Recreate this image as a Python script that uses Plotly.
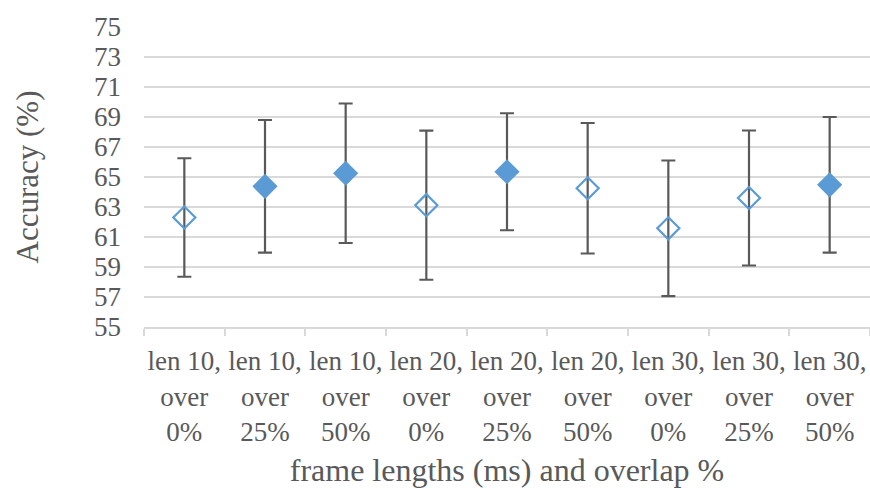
import plotly.graph_objects as go

# Frame length / overlap configurations
categories = [
    "len 10,<br>over<br>0%", "len 10,<br>over<br>25%", "len 10,<br>over<br>50%",
    "len 20,<br>over<br>0%", "len 20,<br>over<br>25%", "len 20,<br>over<br>50%",
    "len 30,<br>over<br>0%", "len 30,<br>over<br>25%", "len 30,<br>over<br>50%",
]
# Mean accuracy (%) and its standard deviation
accuracy = [62.3, 64.38, 65.25, 63.12, 65.35, 64.25, 61.58, 63.6, 64.48]
std_dev = [3.95, 4.42, 4.65, 4.97, 3.9, 4.35, 4.52, 4.5, 4.52]
# Configurations drawn with a solid marker
solid = [False, True, True, False, True, False, False, False, True]

y_ticks = list(range(55, 76, 2))

FONT = "Liberation Serif, Times New Roman, serif"
TEXT = "#595959"
GRID = "#D9D9D9"
BLUE = "#5B9BD5"

fig = go.Figure(
    go.Scatter(
        x=categories,
        y=accuracy,
        mode="markers",
        marker=dict(
            symbol=["diamond" if s else "diamond-open" for s in solid],
            size=17,
            color=BLUE,
            line=dict(color=BLUE, width=2.2),
        ),
        error_y=dict(
            type="data",
            array=std_dev,
            symmetric=True,
            color=TEXT,
            thickness=2.2,
            width=7,
        ),
        showlegend=False,
    )
)

fig.update_layout(
    width=870,
    height=488,
    margin=dict(l=144, r=0, t=27, b=161),
    paper_bgcolor="white",
    plot_bgcolor="white",
    font=dict(family=FONT, color=TEXT, size=26),
    xaxis=dict(
        type="category",
        range=[-0.5, len(categories) - 0.5],
        tickson="boundaries",
        tickangle=0,
        ticks="outside",
        ticklen=7,
        tickwidth=2,
        tickcolor=GRID,
        showline=True,
        linecolor=GRID,
        linewidth=2,
        showgrid=False,
        ticklabelstandoff=9,
        tickfont=dict(family=FONT, size=27, color=TEXT),
        title=dict(text="frame lengths (ms) and overlap %",
                   font=dict(family=FONT, size=32, color=TEXT), standoff=13),
        automargin=False,
    ),
    yaxis=dict(
        range=[55, 75],
        tickvals=y_ticks,
        showgrid=True,
        gridcolor=GRID,
        gridwidth=1.7,
        zeroline=False,
        showline=False,
        ticks="",
        ticklabelstandoff=22,
        tickfont=dict(family=FONT, size=27, color=TEXT),
        title=dict(text="Accuracy (%)", font=dict(family=FONT, size=31, color=TEXT),
                   standoff=46),
        automargin=False,
    ),
)

fig.write_html("out.html")
